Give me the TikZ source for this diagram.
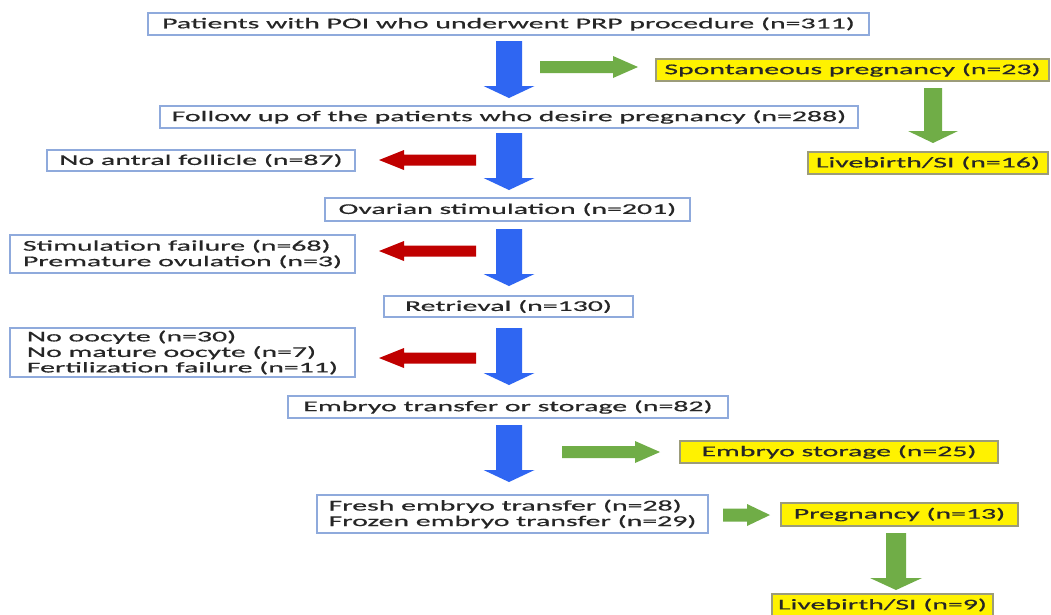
\documentclass[tikz,border=0pt]{standalone}
\usepackage{fontspec}
\setmainfont{Carlito}[FakeStretch=2.0,FakeBold=0.6]
\definecolor{boxline}{HTML}{8FAADC}
\definecolor{yellowline}{HTML}{9C9C7A}
\definecolor{ablue}{HTML}{2F66F2}
\definecolor{agreen}{HTML}{70AD47}
\definecolor{ared}{HTML}{C00000}
\definecolor{txt}{HTML}{262626}
\newcommand{\blockarrow}[7]{%
  \fill[#1, shift={#2}, rotate=#3] (0,-#5/2) -- (#4-#7,-#5/2) -- (#4-#7,-#6/2) -- (#4,0)
    -- (#4-#7,#6/2) -- (#4-#7,#5/2) -- (0,#5/2) -- cycle;}
\begin{document}
\begin{tikzpicture}[x=1pt,y=-1pt,
  every node/.style={font=\fontsize{14.9}{15.5}\selectfont, text=txt, inner sep=0pt},
  wbox/.style={draw=boxline, line width=1.3pt, fill=white, align=left},
  ybox/.style={draw=yellowline, line width=1.3pt, fill=yellow, align=left}]
\useasboundingbox (0,0) rectangle (1051,614);
\fill[white] (0,0) rectangle (1051,614);

% boxes
\node[wbox, minimum width=721, minimum height=22] (n1) at (508.5,24) {Patients with POI who underwent PRP procedure (n=311)};
\node[ybox, minimum width=393, minimum height=22] (sp) at (852.5,70) {Spontaneous pregnancy (n=23)};
\node[wbox, minimum width=698, minimum height=22] (n2) at (509,117) {Follow up of the patients who desire pregnancy (n=288)};
\node[ybox, minimum width=240, minimum height=22] (lb1) at (928,163) {Livebirth/SI (n=16)};
\node[wbox, minimum width=308, minimum height=21] (na) at (201,160.5) {No antral follicle (n=87)};
\node[wbox, minimum width=365, minimum height=23] (ov) at (507.5,209.5) {Ovarian stimulation (n=201)};
\node[wbox, minimum width=345, minimum height=38] (sf) at (182.5,254) {Stimulation failure (n=68)\\Premature ovulation (n=3)};
\node[wbox, minimum width=249, minimum height=21] (rt) at (508.5,306.5) {Retrieval (n=130)};
\node[wbox, minimum width=345, minimum height=49] (no) at (182.5,352.5) {No oocyte (n=30)\\No mature oocyte (n=7)\\Fertilization failure (n=11)};
\node[wbox, minimum width=440, minimum height=22] (et) at (508,407) {Embryo transfer or storage (n=82)};
\node[ybox, minimum width=318, minimum height=22] (es) at (839,452) {Embryo storage (n=25)};
\node[wbox, minimum width=391, minimum height=38] (fr) at (512.5,514) {Fresh embryo transfer (n=28)\\Frozen embryo transfer (n=29)};
\node[ybox, minimum width=237, minimum height=23] (pg) at (899.5,514.5) {Pregnancy (n=13)};
\node[ybox, minimum width=221, minimum height=22] (lb2) at (882.5,605) {Livebirth/SI (n=9)};

% blue arrows (down)
\blockarrow{ablue}{(509,41)}{-90}{57}{26}{51}{12}
\blockarrow{ablue}{(509,133)}{-90}{57}{26}{51}{12}
\blockarrow{ablue}{(509,229)}{-90}{57}{26}{51}{12}
\blockarrow{ablue}{(509,328)}{-90}{57}{26}{51}{12}
\blockarrow{ablue}{(509,425)}{-90}{57}{26}{51}{12}
% green arrows
\blockarrow{agreen}{(540,67)}{0}{98}{12}{22}{25}
\blockarrow{agreen}{(562,452)}{0}{98}{12}{22}{25}
\blockarrow{agreen}{(723,515)}{0}{47}{13}{22}{23}
\blockarrow{agreen}{(933,88)}{-90}{55}{18}{50}{12}
\blockarrow{agreen}{(896,533)}{-90}{57}{20}{52}{12}
% red arrows (left)
\blockarrow{ared}{(476,160)}{180}{97}{11}{20}{25}
\blockarrow{ared}{(476,251)}{180}{97}{11}{20}{25}
\blockarrow{ared}{(476,358)}{180}{97}{11}{20}{25}
\end{tikzpicture}
\end{document}
